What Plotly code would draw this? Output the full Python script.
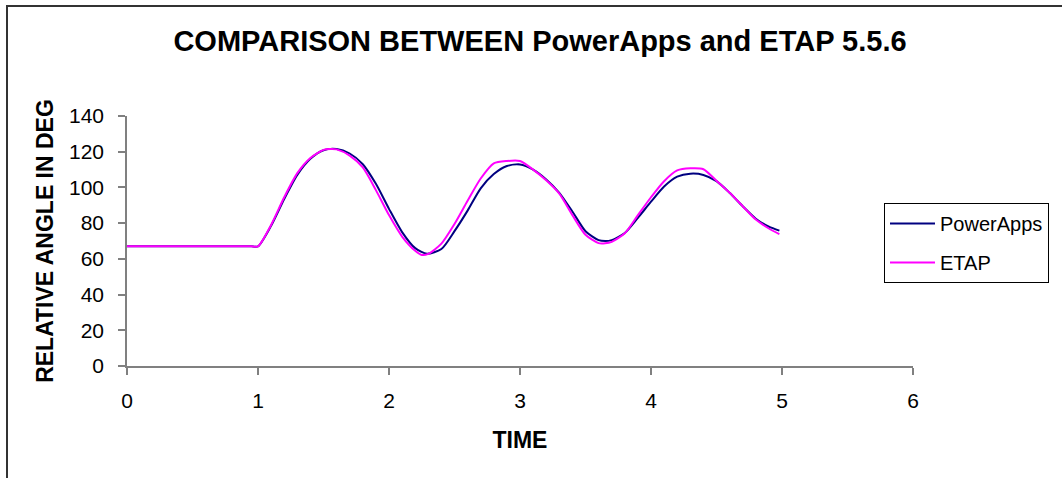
import plotly.graph_objects as go

# Data
time_pa = [0, 0.9, 0.95, 1.0, 1.1, 1.2, 1.3, 1.4, 1.5, 1.6, 1.7, 1.8, 1.9, 2.0, 2.1, 2.2, 2.29,
           2.4, 2.5, 2.6, 2.7, 2.8, 2.9, 3.0, 3.1, 3.2, 3.3, 3.4, 3.5, 3.6, 3.65, 3.7,
           3.8, 3.9, 4.0, 4.1, 4.2, 4.3, 4.4, 4.5, 4.6, 4.7, 4.8, 4.9, 4.98]
powerapps = [67, 67, 67, 67, 78.5, 93.5, 107, 116, 120.8, 121.5, 119, 113, 102, 88, 75, 66, 62.9,
             65.5, 75.5, 87, 99.5, 107.5, 112, 112.9, 110, 104.5, 97, 86.5, 75.5, 70.5, 70, 70.5,
             74.5, 83, 92, 100.5, 106, 107.7, 107, 103.5, 97, 89.5, 82.5, 78, 75.8]

time_etap = [0, 0.9, 0.95, 1.0, 1.1, 1.2, 1.3, 1.4, 1.5, 1.55, 1.6, 1.7, 1.8, 1.9, 2.0, 2.1, 2.2, 2.25,
             2.3, 2.4, 2.5, 2.6, 2.7, 2.8, 2.9, 3.0, 3.1, 3.2, 3.3, 3.4, 3.5, 3.6, 3.65, 3.7,
             3.8, 3.9, 4.0, 4.1, 4.2, 4.3, 4.4, 4.5, 4.6, 4.7, 4.8, 4.9, 4.98]
etap = [67, 67, 67, 67, 79, 94.5, 108, 116.5, 121, 121.5, 121.3, 117.8, 111.2, 98.5, 84.5, 72.5, 64.5, 62.2,
        62.8, 68.5, 79.5, 92.5, 105, 113.5, 114.8, 114.8, 110, 104, 96.5, 84.5, 73.5, 68.8, 68.7, 69.5,
        74.3, 84.5, 94.5, 103.5, 109.5, 110.7, 110.2, 103.7, 97, 89.5, 82, 77, 73.9]

x_ticks = [0, 1, 2, 3, 4, 5, 6]
y_ticks = [0, 20, 40, 60, 80, 100, 120, 140]

FONT = "Liberation Sans, Arial, sans-serif"

fig = go.Figure()
fig.add_trace(go.Scatter(x=time_pa, y=powerapps, mode="lines", name="PowerApps",
                         legendgroup="a",
                         line=dict(color="#000080", width=2, shape="spline", smoothing=0.7)))
fig.add_trace(go.Scatter(x=time_etap, y=etap, mode="lines", name="ETAP",
                         legendgroup="b",
                         line=dict(color="#FF00FF", width=2, shape="spline", smoothing=0.7)))

W, H = 1062, 478
L, R, T, B = 127, 1062 - 913, 116, 478 - 366
pw, ph = W - L - R, H - T - B

def px_x(p):
    return (p - L) / pw

def px_y(p):
    return (H - B - p) / ph

fig.update_layout(
    width=W, height=H,
    margin=dict(l=L, r=R, t=T, b=B, autoexpand=False),
    paper_bgcolor="white", plot_bgcolor="white",
    font=dict(family=FONT, color="black"),
    title=dict(text="<b>COMPARISON BETWEEN PowerApps and ETAP 5.5.6</b>",
               font=dict(size=29, family=FONT, color="black"),
               x=540 / W, xref="container", xanchor="center",
               y=1 - 41 / H, yref="container", yanchor="middle"),
    showlegend=True,
    legend=dict(x=px_x(884), y=px_y(203), xanchor="left", yanchor="top",
                bordercolor="#000000", borderwidth=1, bgcolor="white",
                font=dict(size=20, family=FONT, color="black"),
                traceorder="grouped", tracegroupgap=10, itemwidth=45),
    shapes=[dict(type="rect", xref="paper", yref="paper",
                 x0=px_x(7), x1=px_x(1075), y0=px_y(492), y1=px_y(6),
                 line=dict(color="#333333", width=2), layer="below")],
)

fig.update_xaxes(range=[0, 6], tickvals=x_ticks, showgrid=False, zeroline=False,
                 showline=True, linecolor="#808080", linewidth=1.5,
                 ticks="outside", ticklen=7, tickcolor="#808080", tickwidth=1.5,
                 tickfont=dict(size=21, family=FONT, color="black"),
                 ticklabelstandoff=8,
                 title=dict(text="<b>TIME</b>", font=dict(size=23, family=FONT, color="black"),
                            standoff=21))
fig.update_yaxes(range=[0, 140], tickvals=y_ticks, showgrid=False, zeroline=False,
                 showline=True, linecolor="#808080", linewidth=1.5,
                 ticks="outside", ticklen=7, tickcolor="#808080", tickwidth=1.5,
                 tickfont=dict(size=21, family=FONT, color="black"),
                 ticklabelstandoff=10,
                 title=dict(text="<b>RELATIVE ANGLE IN DEG</b>",
                            font=dict(size=23, family=FONT, color="black"),
                            standoff=9))

fig.write_html("out.html", config={"displayModeBar": False},
               post_script="document.body.style.margin='0';")
